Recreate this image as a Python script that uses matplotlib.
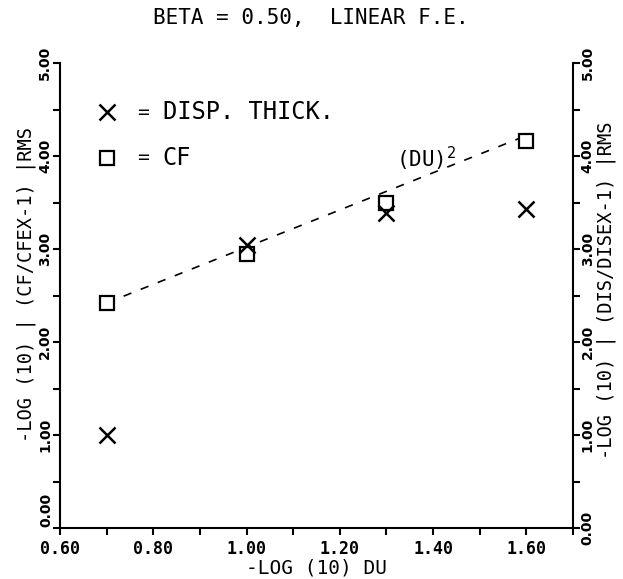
import matplotlib
matplotlib.use("Agg")
import matplotlib.pyplot as plt
from matplotlib.ticker import MultipleLocator, FormatStrFormatter, FuncFormatter

# Convergence data: -log10(DU) vs RMS error measures
du = [0.70, 1.00, 1.30, 1.60]
cf_err = [2.42, 2.95, 3.49, 4.16]      # squares: skin friction
disp_err = [1.00, 3.04, 3.39, 3.43]    # crosses: displacement thickness

# Reference slope-2 line, (DU)^2
ref_x = [0.70, 1.60]
ref_y = [2.42, 4.22]

title = "BETA = 0.50,  LINEAR F.E."
xlabel = "-LOG (10) DU"
ylabel_left = "-LOG (10) | (CF/CFEX-1) |RMS"
ylabel_right = "-LOG (10) | (DIS/DISEX-1) |RMS"

plt.rcParams["font.family"] = ["DejaVu Sans Mono"]
plt.rcParams["mathtext.fontset"] = "dejavusans"

W, H = 623, 579
fig = plt.figure(figsize=(W / 100, H / 100), dpi=100)
ax = fig.add_axes([60 / W, 51 / H, 513 / W, 465 / H])

ax.set_xlim(0.60, 1.70)
ax.set_ylim(0.0, 5.0)

ax.plot(ref_x, ref_y, color="black", lw=1.2, dashes=(5, 6), zorder=1)
ax.plot(du, cf_err, linestyle="none", marker="s", ms=10, mfc="white",
        mec="black", mew=1.6, zorder=3)
ax.plot(du, disp_err, linestyle="none", marker="x", ms=11, mec="black",
        mew=1.8, zorder=4)

# Key drawn inside the plot
ax.plot([0.70], [4.47], linestyle="none", marker="x", ms=11, mec="black", mew=1.8)
ax.plot([0.70], [3.98], linestyle="none", marker="s", ms=10, mfc="white",
        mec="black", mew=1.6)
ax.text(0.765, 4.47, "=", fontsize=14, va="center", ha="left")
ax.text(0.82, 4.47, "DISP. THICK.", fontsize=17, va="center", ha="left")
ax.text(0.765, 3.98, "=", fontsize=14, va="center", ha="left")
ax.text(0.82, 3.98, "CF", fontsize=17, va="center", ha="left")
ax.text(1.32, 3.97, "(DU)$^{2}$", fontsize=15, va="center", ha="left")

# Spines: no top border
ax.spines["top"].set_visible(False)
for s in ("left", "right", "bottom"):
    ax.spines[s].set_linewidth(1.5)

ymin = ax.get_ylim()[0]
yfmt = FormatStrFormatter("%.2f")

ax.xaxis.set_major_locator(MultipleLocator(0.2))
ax.xaxis.set_minor_locator(MultipleLocator(0.1))
ax.xaxis.set_major_formatter(FormatStrFormatter("%.2f"))
ax.yaxis.set_major_locator(MultipleLocator(1.0))
ax.yaxis.set_minor_locator(MultipleLocator(0.5))
# the bottom value is labelled separately on each side
ax.yaxis.set_major_formatter(
    FuncFormatter(lambda v, p: "" if abs(v - ymin) < 1e-9 else yfmt(v)))

ax.tick_params(axis="both", which="both", direction="out", length=5, width=1.5)
ax.tick_params(axis="x", which="major", pad=4, labelsize=12)
ax.tick_params(axis="y", which="both", left=True, right=True,
               labelleft=True, labelright=True)
ax.tick_params(axis="y", which="major", pad=0.5, labelsize=10)
for lab in ax.get_xticklabels():
    lab.set_fontweight("bold")
for t in ax.yaxis.get_major_ticks():
    for lab in (t.label1, t.label2):
        lab.set_rotation(90)
        lab.set_va("center")
        lab.set_fontweight("bold")
        lab.set_family("DejaVu Sans")

# Bottom y labels: left one sits above its tick, clear of the x labels
ax.annotate(yfmt(ymin), xy=(0, ymin), xycoords=("axes fraction", "data"),
            xytext=(-10, 1), textcoords="offset points",
            rotation=90, ha="center", va="bottom", fontsize=10,
            fontweight="bold", family="DejaVu Sans")
ax.annotate(yfmt(ymin), xy=(1, ymin), xycoords=("axes fraction", "data"),
            xytext=(10, 0), textcoords="offset points",
            rotation=90, ha="center", va="center", fontsize=10,
            fontweight="bold", family="DejaVu Sans")

ax.set_xlabel(xlabel, fontsize=14, labelpad=0)

# Axis titles placed in figure pixels
fig.text(26.5 / W, 1 - 284 / H, ylabel_left, fontsize=13.5, rotation=90,
         ha="center", va="center")
fig.text(606 / W, 1 - 290 / H, ylabel_right, fontsize=13.5, rotation=90,
         ha="center", va="center")

fig.text(311 / W, 1 - 18 / H, title, fontsize=15, ha="center", va="center")

fig.savefig("out.png", dpi=100)
